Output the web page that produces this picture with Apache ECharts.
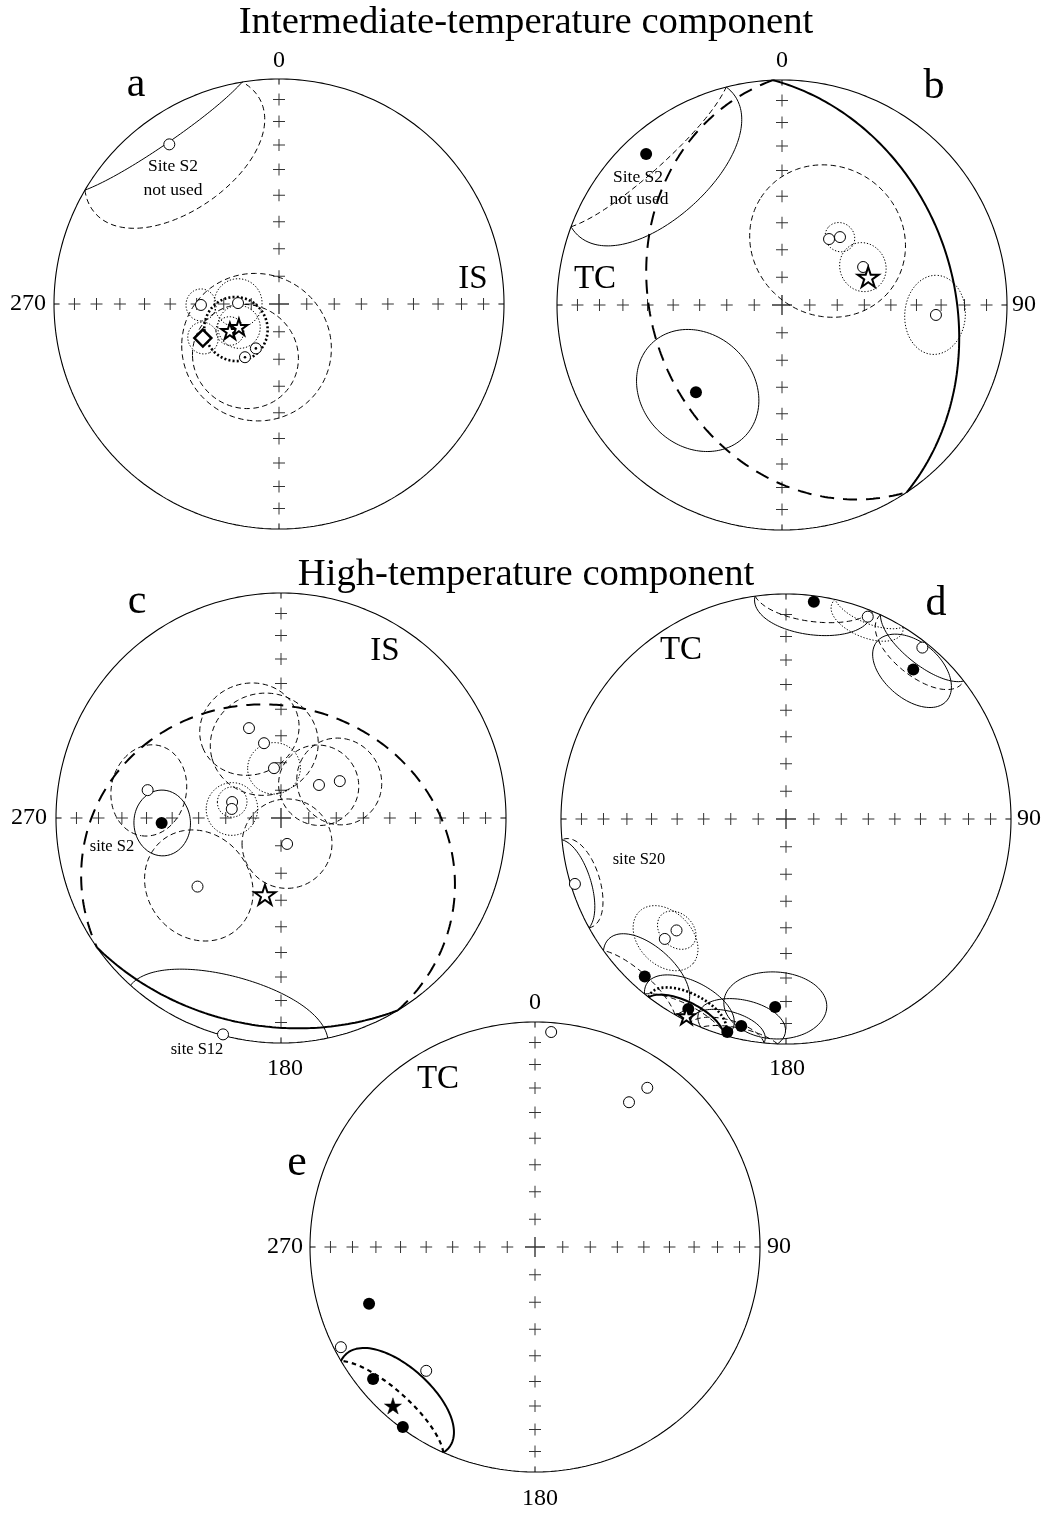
<!DOCTYPE html>
<html>
<head>
<meta charset="utf-8">
<title>Stereonets</title>
<script src="https://cdn.jsdelivr.net/npm/echarts/dist/echarts.min.js"></script>
<style>
  html, body { margin: 0; padding: 0; background: #fff; }
  #chart { width: 1050px; height: 1513px; }
</style>
</head>
<body>
<div id="chart"></div>
<script>
// Directions are [declination, inclination, a95] in degrees.
// Negative inclination = upper hemisphere (open symbol, dashed cone).
const inclinationTicks = [10, 20, 30, 40, 50, 60, 70, 80];

// a: intermediate-temperature component, in situ
const aRejectedSite = [[325.5, -15.0, 29]];
const aScatteredSites = [[207.5, -71.9, 27], [212.6, -67.1, 19]];
const aSiteMeans = [[269.3, -61.6, 5.6], [271.3, -75.2, 8.7]];
const aLocality = [[245.9, -59.6, 5.6]];
const aGroupMeans = [[241.2, -69.7, 5.1], [240.2, -73.3, 7.7]];
const aOverallCone = [[239.8, -71.9, 11.5]];

// b: intermediate-temperature component, tilt corrected
const bRejectedSite = [[318.0, 10.7, 29.5]];
const bLowerSites = [[224.6, 44.7, 22]];
const bSiteMeans = [[40.5, -57.4, 5.3], [64.9, -57.3, 8.6], [93.7, -32.0, 12.5]];
const bScatteredSites = [[35.5, -60.5, 28]];
const bMean = [[72.0, -56.9, 81.5]];

// c: high-temperature component, in situ
const cLowerSites = [[267.6, 45.9, 11]];
const cScatteredSites = [[281.8, -39.3, 15], [340.4, -55.1, 17.3], [347.2, -62.1, 19],
  [49.0, -71.8, 14.5], [57.9, -64.8, 15.5], [166.8, -80.4, 16.2], [230.6, -50.3, 19.8]];
const cSiteMeans = [[352.0, -71.8, 9.4], [288.1, -71.4, 5.4], [280.4, -71.9, 9.4]];
const cSiteS12 = [[195.0, -0.5, 27]];
const cMean = [[191.8, -61.5, 69.6]];

// d: high-temperature component, tilt corrected
const dLowerSites = [[7.3, 3.0, 15.5], [40.4, 13.8, 13], [221.9, 6.7, 14], [207.2, 5.6, 13],
  [195.4, 2.0, 10], [192.2, 6.6, 12], [183.3, 17.4, 15]];
const dUpperSites = [[38.5, -3.0, 14], [252.9, -2.1, 12]];
const dSiteMeans = [[22.0, -3.4, 10], [225.3, -25.2, 11.4], [224.5, -31.2, 6.8]];
const dMean = [[206.8, -2.1, 11]];

// e: high-temperature component, tilt corrected, individual directions
const eLowerDirs = [[251.1, 23.1], [230.8, 7.9], [216.3, 0.9]];
const eUpperDirs = [[4.3, -4.7], [35.2, -14.5], [33.0, -24.3], [242.7, -3.3], [221.3, -27.6]];
const eMean = [[221.8, 5.9, 18.7]];

// ---------------------------------------------------------------------------
const RAD = Math.PI / 180;
const R = 225;
const SERIF = '"Liberation Serif", "Times New Roman", serif';

const panels = [
  { cx: 279, cy: 304 },
  { cx: 782, cy: 305 },
  { cx: 281, cy: 818 },
  { cx: 786, cy: 819 },
  { cx: 535, cy: 1247 }
];

// Lambert equal-area projection, both hemispheres folded onto the lower one
function project(dec, inc) {
  const r = Math.SQRT2 * Math.sin((90 - Math.abs(inc)) * RAD / 2);
  return [r * Math.sin(dec * RAD), r * Math.cos(dec * RAD)];
}
function vec(dec, inc) {
  return [Math.cos(inc * RAD) * Math.cos(dec * RAD), Math.cos(inc * RAD) * Math.sin(dec * RAD), Math.sin(inc * RAD)];
}
function toXY(p) {
  const n = Math.hypot(p[0], p[1], p[2]);
  const dec = Math.atan2(p[1], p[0]) / RAD;
  const inc = Math.asin(Math.max(-1, Math.min(1, p[2] / n))) / RAD;
  return project(dec, inc);
}
function cross(a, b) {
  return [a[1] * b[2] - a[2] * b[1], a[2] * b[0] - a[0] * b[2], a[0] * b[1] - a[1] * b[0]];
}
function unit(a) {
  const n = Math.hypot(a[0], a[1], a[2]);
  return [a[0] / n, a[1] / n, a[2] / n];
}

// Small circle of radius alpha about (dec, inc), split into lower/upper runs
function smallCircle(dec, inc, alpha, n = 360) {
  const c = vec(dec, inc);
  const ref = Math.abs(c[2]) < 0.9 ? [0, 0, 1] : [1, 0, 0];
  const u = unit(cross(c, ref));
  const v = cross(c, u);
  const ca = Math.cos(alpha * RAD), sa = Math.sin(alpha * RAD);
  const vs = [];
  for (let i = 0; i < n; i++) {
    const t = 2 * Math.PI * i / n;
    vs.push([0, 1, 2].map(k => ca * c[k] + sa * (Math.cos(t) * u[k] + Math.sin(t) * v[k])));
  }
  let start = 0;
  for (let i = 0; i < n; i++) {
    if ((vs[i][2] >= 0) !== (vs[(i + 1) % n][2] >= 0)) { start = (i + 1) % n; break; }
  }
  const segs = [];
  let cur = null;
  for (let j = 0; j <= n; j++) {
    const p = vs[(start + j) % n];
    const low = p[2] >= 0;
    if (!cur) { cur = { lower: low, pts: [toXY(p)] }; continue; }
    if (low !== cur.lower) {
      const q = vs[(start + j - 1 + n) % n];
      const f = q[2] / (q[2] - p[2]);
      const m = [q[0] + f * (p[0] - q[0]), q[1] + f * (p[1] - q[1]), 0];
      cur.pts.push(toXY(m));
      segs.push(cur);
      cur = { lower: low, pts: [toXY(m), toXY(p)] };
    } else {
      cur.pts.push(toXY(p));
    }
  }
  if (segs.length && cur.pts.length <= 2) {
    segs[0].pts.unshift(cur.pts[0]);
  } else {
    segs.push(cur);
  }
  return segs;
}

const STYLE = {
  thin: { width: 1, type: 'solid' },
  dash: { width: 1, type: [5.5, 3.5] },
  dot: { width: 1, type: [1.3, 1.8] },
  boldDot: { width: 2.6, type: [2, 2.2] },
  boldSolid: { width: 2, type: 'solid' },
  boldLongDash: { width: 2, type: [14, 9] },
  boldShortDash: { width: 2.2, type: [4.5, 4] }
};

const series = [];
function addLine(g, pts, st, z) {
  series.push({
    type: 'line', xAxisIndex: g, yAxisIndex: g, data: pts, symbol: 'none',
    clip: false, silent: true, animation: false, z: z || 2,
    lineStyle: { color: '#000', width: st.width, type: st.type, cap: 'butt' }
  });
}
// lowerSt / upperSt: line style for the part of each cone in that hemisphere (null = not drawn)
function addCones(g, dirs, lowerSt, upperSt) {
  dirs.forEach(d => {
    smallCircle(d[0], d[1], d[2]).forEach(s => {
      const st = s.lower ? lowerSt : upperSt;
      if (st) addLine(g, s.pts, st);
    });
  });
}

const starPath = (() => {
  const p = [];
  for (let i = 0; i < 10; i++) {
    const r = i % 2 ? 19 : 50;
    const a = Math.PI * i / 5;
    p.push((50 + r * Math.sin(a)).toFixed(2) + ',' + (50 - r * Math.cos(a)).toFixed(2));
  }
  return 'path://M' + p.join('L') + 'Z';
})();

const SYM = {
  open: { symbol: 'circle', size: 11, fill: '#fff', bw: 1 },
  filled: { symbol: 'circle', size: 12, fill: '#000', bw: 0 },
  diamond: { symbol: 'diamond', size: 17, fill: '#fff', bw: 2.5 },
  openStar: { symbol: starPath, size: 21, fill: '#fff', bw: 2 },
  smallStar: { symbol: starPath, size: 17, fill: '#fff', bw: 2 },
  filledStar: { symbol: starPath, size: 17, fill: '#000', bw: 0.5 },
  dot: { symbol: 'circle', size: 2.6, fill: '#000', bw: 0 }
};
function addPoints(g, dirs, kind) {
  const s = SYM[kind];
  series.push({
    type: 'scatter', xAxisIndex: g, yAxisIndex: g, clip: false, silent: true, animation: false, z: 6,
    data: dirs.map(d => project(d[0], d[1])),
    symbol: s.symbol, symbolSize: s.size, symbolKeepAspect: true,
    itemStyle: { color: s.fill, borderColor: '#000', borderWidth: s.bw, opacity: 1 }
  });
}

// Net frame: primitive circle, cardinal edge ticks and 10-degree crosses
panels.forEach((p, g) => {
  const prim = [];
  for (let i = 0; i <= 360; i++) prim.push([Math.sin(i * RAD), Math.cos(i * RAD)]);
  addLine(g, prim, { width: 1.1, type: 'solid' }, 1);
  [0, 90, 180, 270].forEach(az => {
    addLine(g, [project(az, 0), project(az, 2.8)], STYLE.thin, 1);
  });
  const crosses = [];
  [0, 90, 180, 270].forEach(az => inclinationTicks.forEach(inc => crosses.push(project(az, inc))));
  series.push({
    type: 'scatter', xAxisIndex: g, yAxisIndex: g, clip: false, silent: true, animation: false, z: 1,
    data: crosses, symbol: 'path://M0,5.5H12V6.5H0Z M5.5,0H6.5V12H5.5Z', symbolSize: 12,
    itemStyle: { color: '#000' }
  });
  series.push({
    type: 'scatter', xAxisIndex: g, yAxisIndex: g, clip: false, silent: true, animation: false, z: 1,
    data: [[0, 0]], symbol: 'path://M0,9.3H20V10.7H0Z M9.3,0H10.7V20H9.3Z', symbolSize: 20,
    itemStyle: { color: '#000' }
  });
});

// a
addCones(0, aRejectedSite, STYLE.thin, STYLE.dash);
addCones(0, aScatteredSites, STYLE.thin, STYLE.dash);
addCones(0, aSiteMeans, STYLE.dot, STYLE.dot);
addCones(0, aLocality, STYLE.dot, STYLE.dot);
addCones(0, aGroupMeans, STYLE.dot, STYLE.dot);
addCones(0, aOverallCone, STYLE.boldDot, STYLE.boldDot);
addPoints(0, aRejectedSite, 'open');
addPoints(0, aScatteredSites, 'open');
addPoints(0, aScatteredSites, 'dot');
addPoints(0, aSiteMeans, 'open');
addPoints(0, aLocality, 'diamond');
addPoints(0, aGroupMeans, 'smallStar');

// b
addCones(1, bRejectedSite, STYLE.thin, STYLE.dash);
addCones(1, bLowerSites, STYLE.thin, STYLE.dash);
addCones(1, bSiteMeans, STYLE.dot, STYLE.dot);
addCones(1, bScatteredSites, STYLE.thin, STYLE.dash);
addCones(1, bMean, STYLE.boldSolid, STYLE.boldLongDash);
addPoints(1, bRejectedSite, 'filled');
addPoints(1, bLowerSites, 'filled');
addPoints(1, bScatteredSites, 'open');
addPoints(1, bSiteMeans, 'open');
addPoints(1, bMean, 'openStar');

// c
addCones(2, cLowerSites, STYLE.thin, STYLE.dash);
addCones(2, cScatteredSites, STYLE.thin, STYLE.dash);
addCones(2, cSiteMeans, STYLE.dot, STYLE.dot);
addCones(2, cSiteS12, null, STYLE.thin);
addCones(2, cMean, STYLE.boldSolid, STYLE.boldLongDash);
addPoints(2, cLowerSites, 'filled');
addPoints(2, cScatteredSites, 'open');
addPoints(2, cSiteMeans, 'open');
addPoints(2, cSiteS12, 'open');
addPoints(2, cMean, 'openStar');

// d
addCones(3, dLowerSites, STYLE.thin, STYLE.dash);
addCones(3, dUpperSites, STYLE.thin, STYLE.dash);
addCones(3, dSiteMeans, STYLE.dot, STYLE.dot);
addCones(3, dMean, STYLE.boldSolid, STYLE.boldDot);
addPoints(3, dLowerSites, 'filled');
addPoints(3, dUpperSites, 'open');
addPoints(3, dSiteMeans, 'open');
addPoints(3, dMean, 'smallStar');

// e
addCones(4, eMean, STYLE.boldSolid, STYLE.boldShortDash);
addPoints(4, eLowerDirs, 'filled');
addPoints(4, eUpperDirs, 'open');
addPoints(4, eMean, 'filledStar');

// Text
function txt(text, x, y, size, align) {
  return {
    type: 'text', x: x, y: y, silent: true, z: 10,
    style: {
      text: text, font: size + 'px ' + SERIF, fill: '#000',
      align: align || 'center', verticalAlign: 'middle',
      textAlign: align || 'center', textVerticalAlign: 'middle'
    }
  };
}
const graphics = [
  txt('Intermediate-temperature component', 526, 23, 38.7),
  txt('High-temperature component', 526, 575, 38.7),
  txt('a', 136, 85, 42), txt('b', 934, 87, 42), txt('c', 137, 602, 42),
  txt('d', 936, 604, 42), txt('e', 297, 1163, 44),
  txt('0', 279, 61, 24), txt('270', 46, 304, 24, 'right'),
  txt('0', 782, 61, 24), txt('90', 1012, 305, 24, 'left'),
  txt('270', 47, 818, 24, 'right'), txt('180', 285, 1069, 24),
  txt('90', 1017, 819, 24, 'left'), txt('180', 787, 1069, 24),
  txt('0', 535, 1003, 24), txt('270', 303, 1247, 24, 'right'),
  txt('90', 767, 1247, 24, 'left'), txt('180', 540, 1499, 24),
  txt('IS', 473, 279, 33), txt('TC', 595, 279, 33), txt('IS', 385, 651, 33),
  txt('TC', 681, 650, 33), txt('TC', 438, 1079, 33),
  txt('Site S2', 173, 166, 17.5), txt('not used', 173, 190, 17.5),
  txt('Site S2', 638, 177, 17.5), txt('not used', 639, 199, 17.5),
  txt('site S2', 112, 847, 16.5), txt('site S12', 197, 1050, 16.5),
  txt('site S20', 639, 860, 16.5)
];

const chart = echarts.init(document.getElementById('chart'), null, { renderer: 'canvas' });
chart.setOption({
  animation: false,
  backgroundColor: '#fff',
  grid: panels.map(p => ({ left: p.cx - R, top: p.cy - R, width: 2 * R, height: 2 * R })),
  xAxis: panels.map((p, i) => ({ type: 'value', gridIndex: i, min: -1, max: 1, show: false })),
  yAxis: panels.map((p, i) => ({ type: 'value', gridIndex: i, min: -1, max: 1, show: false })),
  series: series,
  graphic: graphics
});
</script>
</body>
</html>
